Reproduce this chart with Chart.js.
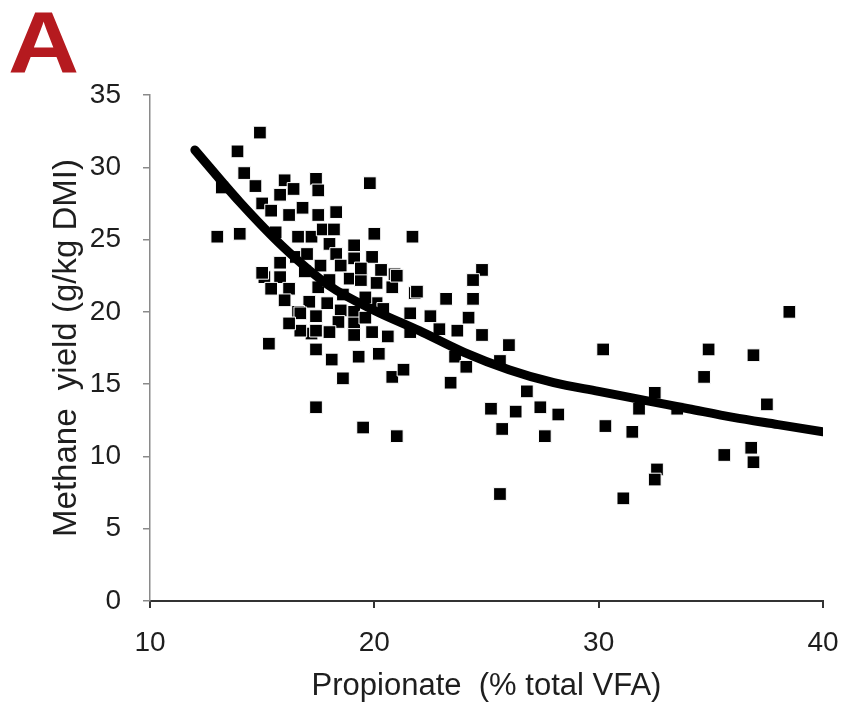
<!DOCTYPE html>
<html>
<head>
<meta charset="utf-8">
<script src="https://cdn.jsdelivr.net/npm/chart.js@4/dist/chart.umd.min.js"></script>
<style>
  html, body { margin: 0; padding: 0; background: #fff; }
  #wrap { width: 844px; height: 705px; }
</style>
</head>
<body>
<div id="wrap"><canvas id="myChart" width="844" height="705"></canvas></div>
<script>
// propionate (% total VFA) vs methane yield (g/kg DMI), one entry per study
var propionate = [14.9,13.9,14.2,13.2,14.7,13.0,14.0,15.3,16.0,17.4,17.5,19.8,15.8,16.4,15.0,16.8,16.2,17.5,18.3,15.4,
  15.6,16.6,17.2,17.7,18.2,20.0,21.7,18.0,18.3,19.1,19.1,19.9,18.5,15.8,15.8,15.1,15.4,16.2,16.0,17.5,
  18.0,18.9,19.4,20.1,20.3,20.9,20.8,17.1,17.9,18.5,19.1,17.4,18.4,19.1,19.6,20.1,21.6,21.8,21.6,20.6,
  19.9,18.0,19.1,17.2,17.4,18.1,19.3,20.2,18.6,20.8,21.3,17.4,19.5,21.0,24.8,24.4,24.4,23.2,21.9,22.5,
  22.9,23.7,24.2,24.8,26.0,23.6,24.1,25.6,23.4,26.8,25.2,26.3,27.4,28.2,25.7,27.6,30.2,30.3,25.6,38.5,
  34.9,36.9,34.7,32.5,31.8,33.5,37.5,31.5,35.6,36.8,36.9,32.6,32.5,31.1,21.0,16.7,17.4,16.5,17.0,16.9,
  17.6,18.6,19.6,20.4,16.6,19.4,16.7,15.0,16.2];
var methane = [32.4,31.1,29.6,28.6,28.7,25.2,25.4,17.8,29.1,29.2,28.4,28.9,28.1,28.5,27.5,27.2,26.7,26.7,26.9,27.0,
  25.5,25.2,25.2,25.7,25.7,25.4,25.2,24.7,24.0,24.6,23.7,23.8,23.2,23.4,22.4,22.4,21.6,21.6,20.8,21.7,
  22.2,22.3,22.2,22.0,22.9,22.6,21.7,20.7,20.6,20.1,20.0,19.7,19.3,19.2,19.6,20.6,19.9,21.3,18.6,18.3,
  18.6,18.6,18.4,18.5,17.4,16.7,16.9,17.1,15.4,15.5,16.0,13.4,12.0,11.4,22.9,22.2,20.9,20.9,21.4,19.7,
  18.8,18.7,19.6,18.4,17.7,16.9,16.2,16.6,15.1,14.5,13.3,13.1,13.4,12.9,11.9,11.4,17.4,12.1,7.4,20.0,
  17.4,17.0,15.5,14.4,13.3,13.3,13.6,11.7,10.1,10.6,9.6,9.1,8.4,7.1,22.5,18.7,18.7,23.8,24.0,22.8,
  23.2,21.2,21.0,20.2,20.0,23.0,19.9,22.7,19.2];

// fitted curve
var fitX = [12,14,16,18,20,22,24,26,28,30,32,34,36,38,40];
var fitY = [31.2,27.6,24.4,21.8,20.1,18.7,17.2,16.0,15.1,14.5,13.9,13.3,12.7,12.2,11.7];

var xTicks = [10,20,30,40];
var yTicks = [0,5,10,15,20,25,30,35];

var points = [];
for (var i = 0; i < propionate.length; i++) {
  points.push({x: propionate[i], y: methane[i]});
}
var curve = [];
for (var j = 0; j < fitX.length; j++) {
  curve.push({x: fitX[j], y: fitY[j]});
}

var textColor = '#1e1e1e';
var fontFamily = '"Liberation Sans", Arial, sans-serif';

// big panel letter in the corner
var panelLetter = {
  id: 'panelLetter',
  afterDraw: function(chart) {
    var c = chart.ctx;
    c.save();
    c.fillStyle = '#b51a1f';
    c.font = 'bold 88px ' + fontFamily;
    c.textBaseline = 'alphabetic';
    c.textAlign = 'left';
    c.translate(8, 72);
    c.scale(1.12, 1);
    c.fillText('A', 0, 0);
    c.restore();
  }
};

var ctx = document.getElementById('myChart').getContext('2d');
var myChart = new Chart(ctx, {
  type: 'scatter',
  data: {
    datasets: [{
      type: 'line',
      data: curve,
      borderColor: '#000',
      borderWidth: 9,
      borderCapStyle: 'round',
      pointRadius: 0,
      fill: false,
      cubicInterpolationMode: 'monotone',
      order: 0
    }, {
      data: points,
      pointStyle: 'rect',
      pointRadius: 9,
      backgroundColor: '#000',
      borderColor: '#fff',
      borderWidth: 1,
      order: 1
    }]
  },
  options: {
    responsive: false,
    animation: false,
    layout: { padding: { top: 95, right: 21, left: 0, bottom: 0 } },
    plugins: {
      legend: { display: false },
      tooltip: { enabled: false }
    },
    scales: {
      x: {
        type: 'linear',
        min: 10, max: 40,
        afterFit: function(s) {
          s.height = 104;
          s.paddingLeft = 0;
          s.paddingRight = 0;
        },
        afterBuildTicks: function(s) { s.ticks = xTicks.map(function(v) { return {value: v}; }); },
        grid: { drawOnChartArea: false, drawTicks: true, tickLength: 7, color: '#333', lineWidth: 2 },
        border: { color: '#333', width: 2 },
        ticks: { color: textColor, padding: 18, maxRotation: 0, font: { family: fontFamily, size: 28 } },
        title: {
          display: true,
          text: 'Propionate  (% total VFA)',
          color: textColor,
          padding: { top: 0, bottom: 0 },
          font: { family: fontFamily, size: 31 }
        }
      },
      y: {
        min: 0, max: 35,
        afterFit: function(s) {
          s.width = 150;
          s.paddingTop = 0;
          s.paddingBottom = 0;
        },
        afterBuildTicks: function(s) { s.ticks = yTicks.map(function(v) { return {value: v}; }); },
        grid: { drawOnChartArea: false, drawTicks: true, tickLength: 7, color: '#8a8a8a', lineWidth: 1.5 },
        border: { color: '#8a8a8a', width: 1.5 },
        ticks: { color: textColor, padding: 22, font: { family: fontFamily, size: 28 } },
        title: {
          display: true,
          text: 'Methane  yield (g/kg DMI)',
          color: textColor,
          padding: { top: 47, bottom: 0 },
          font: { family: fontFamily, size: 33 }
        }
      }
    }
  },
  plugins: [panelLetter]
});
</script>
</body>
</html>
